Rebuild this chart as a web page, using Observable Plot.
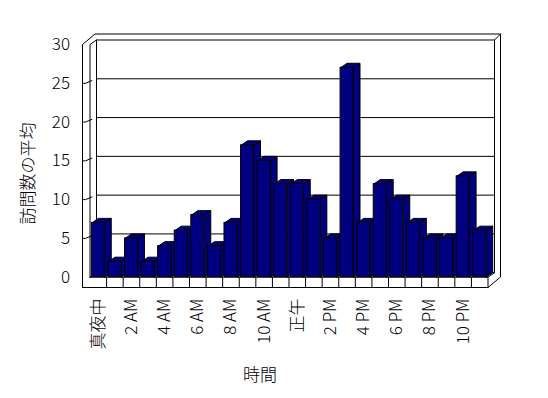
<!DOCTYPE html>
<html><head><meta charset="utf-8">
<script src="https://cdn.jsdelivr.net/npm/d3@7"></script>
<script src="https://cdn.jsdelivr.net/npm/@observablehq/plot@0.6"></script>
<style>body{margin:0;background:#fff} svg{display:block}</style>
</head><body><div id="chart"></div>
<script>
// ---- data ----
const hours = [0,1,2,3,4,5,6,7,8,9,10,11,12,13,14,15,16,17,18,19,20,21,22,23];
const visits = [7,2,5,2,4,6,8,4,7,17,15,12,12,10,5,27,7,12,10,7,5,5,13,6];
const tickHours = [0,2,4,6,8,10,12,14,16,18,20,22];
const tickLabels = ["真夜中","2 AM","4 AM","6 AM","8 AM","10 AM","正午","2 PM","4 PM","6 PM","8 PM","10 PM"];
const yTicks = [0,5,10,15,20,25,30];
const yTitle = "訪問数の平均";
const xTitle = "時間";

// ---- geometry ----
const W = 548, H = 398, mL = 89.5, mR = 60.5, mT = 44, mB = 121.3;
const kx = (W - mL - mR) / 24, ky = (H - mT - mB) / 30;
const d1 = {x: 6.5 / kx, y: 4.5 / ky};
const d2 = {x: 12.5 / kx, y: 10.5 / ky};
const wall = 7.5 / kx, floor = 10.3 / ky;
const barL = 0.11, barR = 0.89;
const yMax = 30, nCat = hours.length;

const data = hours.map((h, i) => ({hour: h, visits: visits[i]}));

function poly(id, pts) { return pts.map(([x, y]) => ({id, x, y})); }

const frame = poly("outer", [[-wall,-floor],[-wall,yMax],[-wall+d2.x,yMax+d2.y],[nCat+d2.x,yMax+d2.y],[nCat+d2.x,-floor+d2.y],[nCat,-floor],[-wall,-floor]]);
const inner = [
  ...poly("a", [[0,0],[0,yMax],[d1.x,yMax+d1.y],[nCat+d1.x,yMax+d1.y],[nCat+d2.x,yMax+d2.y]]),
  ...poly("b", [[d1.x,yMax+d1.y],[d1.x,d1.y],[nCat+d1.x,d1.y],[nCat+d1.x,yMax+d1.y]]),
  ...poly("c", [[0,0],[nCat,0],[nCat,-floor]]),
  ...poly("d", [[nCat,0],[nCat+d1.x,d1.y]]),
  ...poly("e", [[0,0],[d1.x,d1.y]])
];
const leftTicks = yTicks.filter(v => v > 0 && v < yMax).flatMap(v =>
  poly("t" + v, [[-wall, v], [-wall * 0.6, v], [d1.x * 0.3, v + d1.y * 0.6]]));

const faces = data.flatMap(d => {
  const x1 = d.hour + barL, x2 = d.hour + barR, v = d.visits;
  return [
    ...poly("s" + d.hour, [[x2,0],[x2,v],[x2+d1.x,v+d1.y],[x2+d1.x,d1.y],[x2,0]]),
    ...poly("p" + d.hour, [[x1,v],[x2,v],[x2+d1.x,v+d1.y],[x1+d1.x,v+d1.y],[x1,v]])
  ];
});

const chart = Plot.plot({
  width: W, height: H,
  marginLeft: mL, marginRight: mR, marginTop: mT, marginBottom: mB,
  x: {domain: [0, nCat], axis: null},
  y: {domain: [0, yMax], axis: null},
  style: {fontFamily: "'Noto Sans CJK JP', sans-serif", fontSize: "17px", fontWeight: 300, color: "black", background: "white", overflow: "visible"},
  marks: [
    Plot.line(frame, {x: "x", y: "y", z: "id", stroke: "black", fill: "white", strokeWidth: 1}),
    Plot.line(inner, {x: "x", y: "y", z: "id", stroke: "black", strokeWidth: 1}),
    Plot.ruleY(yTicks.filter(v => v > 0 && v < yMax), {x1: d1.x, x2: nCat + d1.x, y: v => v + d1.y, stroke: "black"}),
    Plot.line(leftTicks, {x: "x", y: "y", z: "id", stroke: "black", strokeWidth: 1}),
    Plot.ruleX(hours.filter(h => h > 0), {y1: -floor, y2: 0, stroke: "black"}),
    Plot.line(faces, {x: "x", y: "y", z: "id", fill: "#000080", stroke: "black", strokeWidth: 1}),
    Plot.rect(data, {x1: d => d.hour + barL, x2: d => d.hour + barR, y1: 0, y2: "visits", fill: "#000080", stroke: "black", strokeWidth: 1}),
    Plot.text(yTicks, {x: -wall, y: d => d, text: d => String(d), textAnchor: "end", dx: -12.5, fill: "black"}),
    Plot.text(tickHours, {x: d => d + 0.5, y: -floor, text: (d, i) => tickLabels[i], rotate: -90, textAnchor: "end", dy: 11, fill: "black"}),
    Plot.text([yTitle], {frameAnchor: "left", rotate: -90, textAnchor: "middle", lineAnchor: "middle", dx: 28 - mL, dy: 173 - (mT + H - mB) / 2, fill: "black"}),
    Plot.text([xTitle], {frameAnchor: "bottom", textAnchor: "middle", lineAnchor: "middle", dx: 259.5 - (mL + W - mR) / 2, dy: 375 - (H - mB), fill: "black"})
  ]
});
document.getElementById("chart").append(chart);
</script>
</body></html>
